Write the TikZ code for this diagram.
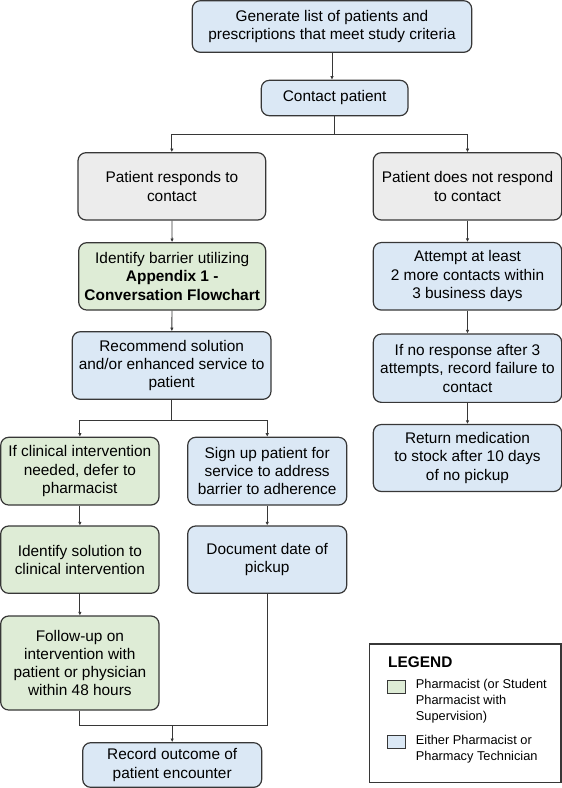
\documentclass[tikz,border=0pt]{standalone}
\usepackage{fontspec}
\setmainfont{Liberation Sans}
\usetikzlibrary{arrows.meta}
\definecolor{bfill}{RGB}{219,232,245}
\definecolor{gfill}{RGB}{222,236,214}
\definecolor{hfill}{RGB}{236,236,236}
\definecolor{edge}{RGB}{55,55,55}
\tikzset{
  box/.style={draw=edge, line width=1.2pt, rounded corners=8pt, inner sep=0pt, align=center,
    font=\fontsize{15.4}{18.3}\selectfont},
  bluebox/.style={box, fill=bfill},
  greenbox/.style={box, fill=gfill},
  graybox/.style={box, fill=hfill},
  conn/.style={draw=edge, line width=0.9pt},
  arr/.style={conn, -{Latex[length=3.5pt,width=3.5pt]}},
  legtext/.style={inner sep=0pt, align=left, anchor=west, font=\fontsize{12.8}{16.3}\selectfont},
  legsq/.style={draw=edge, line width=1pt, inner sep=0pt, minimum width=18pt, minimum height=12.6pt}
}
\begin{document}
\begin{tikzpicture}[x=1pt,y=-1pt]
\useasboundingbox (0,0) rectangle (562,788);
% nodes
\node[bluebox, minimum width=279.4pt, minimum height=51.6pt] (top) at (332,26.5)
  {Generate list of patients and\\prescriptions that meet study criteria};
\node[bluebox, minimum width=146.7pt, minimum height=35.4pt] (contact) at (334.65,98) {Contact patient};
\node[graybox, minimum width=187.7pt, minimum height=67.3pt] (resp) at (171.85,186.35)
  {Patient responds to\\contact};
\node[graybox, minimum width=188.4pt, minimum height=67.3pt] (nresp) at (467.5,186.35)
  {Patient does not respond\\to contact};
\node[greenbox, minimum width=187pt, minimum height=67.3pt] (barrier) at (172.2,276.35)
  {Identify barrier utilizing\\\textbf{Appendix 1 -}\\\textbf{Conversation Flowchart}};
\node[bluebox, minimum width=188.4pt, minimum height=67.5pt] (attempt) at (467.5,276.3)
  {Attempt at least\\2 more contacts within\\3 business days};
\node[bluebox, minimum width=198.7pt, minimum height=67.6pt] (recommend) at (171.65,365.5)
  {Recommend solution\\and/or enhanced service to\\patient};
\node[bluebox, minimum width=188.4pt, minimum height=68.3pt] (noresp) at (467.5,368.2)
  {If no response after 3\\attempts, record failure to\\contact};
\node[bluebox, minimum width=188.4pt, minimum height=67pt] (returnmed) at (467.5,458)
  {Return medication\\to stock after 10 days\\of no pickup};
\node[greenbox, minimum width=158.3pt, minimum height=67.7pt] (clin) at (79.85,471.15)
  {If clinical intervention\\needed, defer to\\pharmacist};
\node[bluebox, minimum width=159pt, minimum height=67.7pt] (sign) at (267.2,471.15)
  {Sign up patient for\\service to address\\barrier to adherence};
\node[greenbox, minimum width=158.3pt, minimum height=67.3pt] (idsol) at (79.85,559.65)
  {Identify solution to\\clinical intervention};
\node[bluebox, minimum width=159pt, minimum height=67.3pt] (doc) at (267.2,559.65)
  {Document date of\\pickup};
\node[greenbox, minimum width=158.3pt, minimum height=94pt] (follow) at (79.85,663)
  {Follow-up on\\intervention with\\patient or physician\\within 48 hours};
\node[bluebox, minimum width=179pt, minimum height=44.6pt] (record) at (172.2,765)
  {Record outcome of\\patient encounter};
% legend
\node[draw=edge, line width=1.2pt, fill=white, minimum width=191.7pt, minimum height=138.7pt] (legend) at (465.15,713.35) {};
\node[inner sep=0pt, anchor=west, font=\fontsize{15.4}{18}\selectfont\bfseries] (legtitle) at (388,662) {LEGEND};
\node[legsq, fill=gfill] (sqg) at (396,687) {};
\node[legtext] (lg) at (415.7,701.3) {Pharmacist (or Student\\Pharmacist with\\Supervision)};
\node[legsq, fill=bfill] (sqb) at (396,742.2) {};
\node[legtext] (lb) at (415.7,749) {Either Pharmacist or\\Pharmacy Technician};
% junction coordinates
\coordinate (j1) at (334.65,134);
\coordinate (j2) at (171.65,420);
\coordinate (j3) at (172.2,725.3);
% connectors
\draw[arr] (top.south) -- (top.south |- contact.north);
\draw[conn] (contact.south) -- (j1);
\draw[arr] (j1) -| (resp.north);
\draw[arr] (j1) -| (nresp.north);
\draw[arr] (resp) -- (barrier);
\draw[arr] (barrier) -- (recommend);
\draw[arr] (nresp) -- (attempt);
\draw[arr] (attempt) -- (noresp);
\draw[arr] (noresp) -- (returnmed);
\draw[conn] (recommend.south) -- (j2);
\draw[arr] (j2) -| (clin.north);
\draw[arr] (j2) -| (sign.north);
\draw[arr] (clin) -- (idsol);
\draw[arr] (idsol) -- (follow);
\draw[arr] (sign) -- (doc);
\draw[conn] (follow.south) |- (j3);
\draw[conn] (doc.south) |- (j3);
\draw[arr] (j3) -- (record.north);
\end{tikzpicture}
\end{document}
